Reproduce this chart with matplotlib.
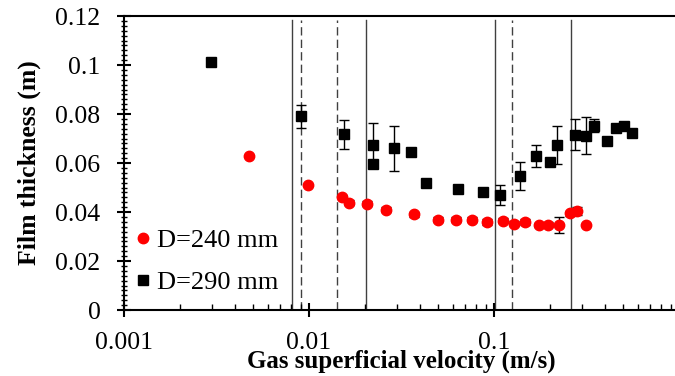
import matplotlib
matplotlib.use('Agg')

import matplotlib.pyplot as plt
from matplotlib.ticker import FixedLocator, LogLocator, MultipleLocator, NullFormatter

plt.rcParams['font.family'] = ['Liberation Serif', 'DejaVu Serif']

# D=240 mm (red circles)
v240 = [0.00475, 0.00992, 0.0151, 0.0165, 0.0206, 0.0261, 0.0371, 0.0496, 0.0623,
        0.0763, 0.092, 0.112, 0.129, 0.148, 0.175, 0.197, 0.225, 0.256, 0.282, 0.313]
h240 = [0.0627, 0.0512, 0.0463, 0.0437, 0.0433, 0.0410, 0.0390, 0.0369, 0.0369,
        0.0369, 0.0360, 0.0364, 0.0353, 0.0358, 0.0347, 0.0349, 0.0347, 0.0395, 0.0405, 0.0347]
e240 = [0.0, 0.0, 0.0008, 0.0010, 0.0010, 0.0010, 0.0010, 0.0010, 0.0010,
        0.0010, 0.0012, 0.0010, 0.0010, 0.0012, 0.0008, 0.0010, 0.0033, 0.0010, 0.0017, 0.0]

# D=290 mm (black squares)
v290 = [0.00295, 0.00902, 0.01545, 0.0223, 0.0223, 0.0288, 0.0355, 0.0429, 0.0639, 0.0869,
        0.1077, 0.1377, 0.1693, 0.2015, 0.219, 0.273, 0.3155, 0.347, 0.408, 0.455, 0.506, 0.559]
h290 = [0.1012, 0.0791, 0.0717, 0.0594, 0.0674, 0.0660, 0.0644, 0.0517, 0.0495, 0.0480,
        0.0470, 0.0548, 0.0627, 0.0606, 0.0674, 0.0716, 0.0711, 0.0752, 0.0690, 0.0744, 0.0750, 0.0722]
e290 = [0.0008, 0.0047, 0.0060, 0.0, 0.0090, 0.0093, 0.0, 0.0008, 0.0008, 0.0,
        0.0042, 0.0058, 0.0045, 0.0, 0.0076, 0.0063, 0.0076, 0.0027, 0.0, 0.0008, 0.0008, 0.0]

# regime boundaries
solid_x = [0.0081, 0.0203, 0.101, 0.261]
dashed_x = [0.0091, 0.0142, 0.125]

yticks = [0, 0.02, 0.04, 0.06, 0.08, 0.1, 0.12]
ylabels = ['0', '0.02', '0.04', '0.06', '0.08', '0.1', '0.12']
xticks = [0.001, 0.01, 0.1, 1]
xlabels = ['0.001', '0.01', '0.1', '']

fig = plt.figure(figsize=(6.75, 3.76), dpi=100)
ax = fig.add_axes([0.1837, 0.1755, 0.8222, 0.7819])

for x in solid_x:
    ax.plot([x, x], [0, 0.1185], color='#404040', lw=1.0, zorder=1)
for x in dashed_x:
    ax.plot([x, x], [0, 0.1185], color='#404040', lw=1.0, ls=(0, (6, 3)), zorder=1)

r = ax.errorbar(v240, h240, yerr=e240, fmt='o', color='red', ms=7.5, ecolor='black',
                elinewidth=1, capsize=3.5, capthick=1, zorder=3)
b = ax.errorbar(v290, h290, yerr=e290, fmt='s', color='black', ms=7, ecolor='black',
                elinewidth=1, capsize=3.8, capthick=1, zorder=3)

ax.set_xscale('log')
ax.set_xlim(0.001, 1)
ax.set_ylim(0, 0.12)

ax.xaxis.set_major_locator(FixedLocator(xticks))
ax.set_xticklabels(xlabels)
ax.xaxis.set_minor_locator(LogLocator(base=10, subs=range(2, 10)))
ax.xaxis.set_minor_formatter(NullFormatter())
ax.yaxis.set_major_locator(FixedLocator(yticks))
ax.set_yticklabels(ylabels)
ax.yaxis.set_minor_locator(MultipleLocator(0.002))

ax.tick_params(axis='x', which='major', direction='inout', length=10, width=1.5, labelsize=18.5, pad=11)
ax.tick_params(axis='x', which='minor', direction='in', length=4, width=1)
ax.tick_params(axis='y', which='major', direction='inout', length=10, width=1.5, labelsize=18.5, pad=12)
ax.tick_params(axis='y', which='minor', direction='inout', length=4, width=1)

for s in ['left', 'bottom', 'top']:
    ax.spines[s].set_linewidth(1.5)
ax.spines['right'].set_visible(False)

ax.set_xlabel('Gas superficial velocity (m/s)', fontsize=18, fontweight='bold', labelpad=-3)
ax.set_ylabel('Film thickness (m)', fontsize=18.5, fontweight='bold', labelpad=10)

ax.legend([r.lines[0], b.lines[0]], ['D=240 mm', 'D=290 mm'], loc='lower left',
          bbox_to_anchor=(-0.022, -0.01), frameon=False, fontsize=19,
          handletextpad=0.0, handlelength=1.0, borderpad=0.2, labelspacing=0.72)

fig.savefig('out.png', dpi=100)
